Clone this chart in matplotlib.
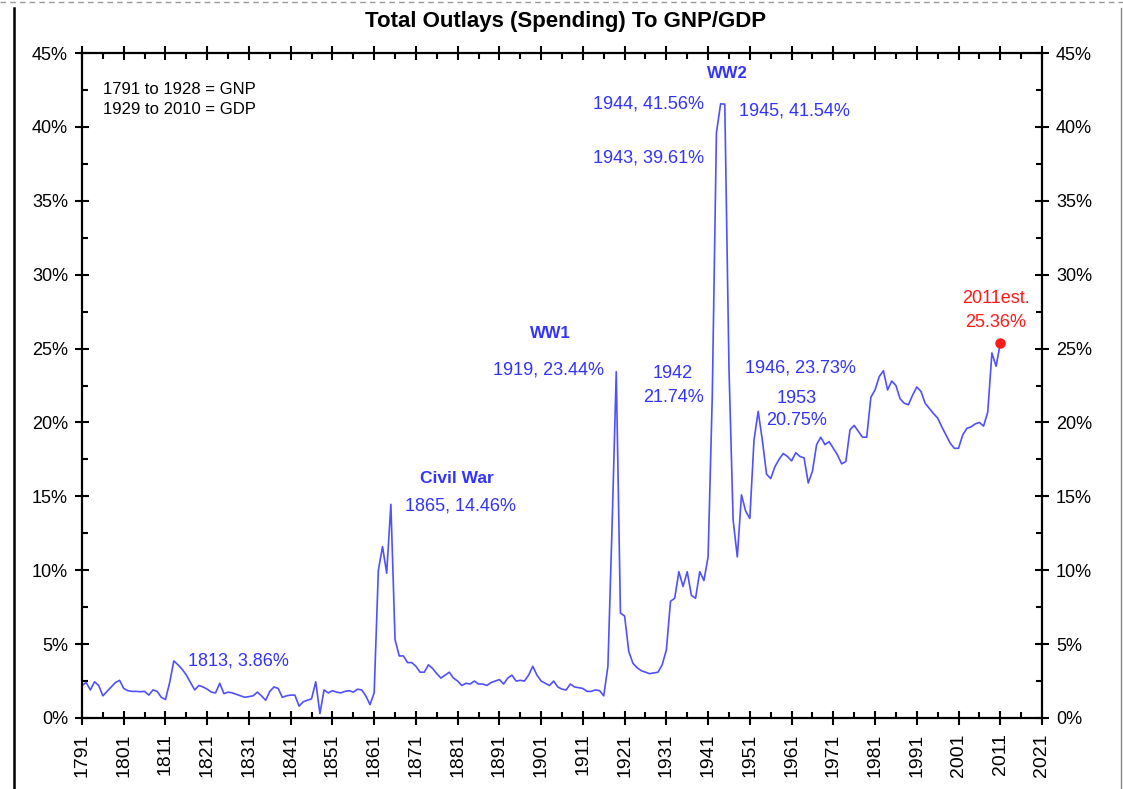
import numpy as np
import matplotlib
matplotlib.use("Agg")
import matplotlib.pyplot as plt
from matplotlib.lines import Line2D
from matplotlib.ticker import FixedLocator, FuncFormatter

plt.rcParams['font.family'] = ['Liberation Sans', 'DejaVu Sans']

# ---- data ----
start_year = 1791
outlays_pct = [
    # 1791-1800
    2.2, 2.4, 1.9, 2.45, 2.2, 1.5, 1.8, 2.1, 2.4, 2.55,
    # 1801-1810
    2.0, 1.85, 1.8, 1.8, 1.78, 1.8, 1.55, 1.9, 1.8, 1.4,
    # 1811-1820
    1.25, 2.4, 3.86, 3.6, 3.3, 2.9, 2.4, 1.9, 2.2, 2.1,
    # 1821-1830
    1.95, 1.75, 1.7, 2.35, 1.65, 1.75, 1.7, 1.6, 1.5, 1.4,
    # 1831-1840
    1.45, 1.5, 1.75, 1.5, 1.2, 1.8, 2.1, 2.0, 1.4, 1.5,
    # 1841-1850
    1.55, 1.55, 0.8, 1.1, 1.2, 1.3, 2.45, 0.3, 1.9, 1.7,
    # 1851-1860
    1.85, 1.75, 1.7, 1.8, 1.85, 1.75, 1.95, 1.9, 1.5, 0.9,
    # 1861-1870
    1.7, 10.0, 11.6, 9.8, 14.46, 5.3, 4.2, 4.2, 3.75, 3.75,
    # 1871-1880
    3.5, 3.1, 3.1, 3.6, 3.35, 3.0, 2.7, 2.9, 3.1, 2.7,
    # 1881-1890
    2.5, 2.2, 2.35, 2.3, 2.5, 2.3, 2.3, 2.2, 2.4, 2.5,
    # 1891-1900
    2.6, 2.3, 2.7, 2.9, 2.5, 2.55, 2.5, 2.9, 3.5, 2.9,
    # 1901-1910
    2.5, 2.35, 2.2, 2.5, 2.1, 1.95, 1.9, 2.3, 2.1, 2.05,
    # 1911-1920
    2.0, 1.8, 1.8, 1.9, 1.85, 1.5, 3.5, 13.0, 23.44, 7.1,
    # 1921-1930
    6.9, 4.5, 3.7, 3.4, 3.2, 3.1, 3.0, 3.05, 3.1, 3.6,
    # 1931-1940
    4.6, 7.9, 8.1, 9.9, 8.9, 9.9, 8.3, 8.1, 9.9, 9.3,
    # 1941-1950
    10.9, 21.74, 39.61, 41.56, 41.54, 23.73, 13.4, 10.9, 15.1, 14.0,
    # 1951-1960
    13.5, 18.8, 20.75, 18.8, 16.5, 16.2, 17.0, 17.5, 17.9, 17.7,
    # 1961-1970
    17.4, 17.95, 17.7, 17.6, 15.9, 16.7, 18.5, 19.0, 18.5, 18.7,
    # 1971-1980
    18.25, 17.8, 17.2, 17.35, 19.5, 19.8, 19.4, 19.0, 19.0, 21.7,
    # 1981-1990
    22.2, 23.1, 23.5, 22.2, 22.8, 22.5, 21.6, 21.3, 21.2, 21.85,
    # 1991-2000
    22.4, 22.1, 21.3, 20.95, 20.6, 20.3, 19.7, 19.15, 18.6, 18.25,
    # 2001-2011
    18.25, 19.15, 19.6, 19.7, 19.9, 20.0, 19.75, 20.7, 24.7, 23.8, 25.36,
]
years = np.arange(start_year, start_year + len(outlays_pct))

est_year = 2011
est_value = 25.36

blue = '#3333ff'
line_blue = '#5050ff'

fig = plt.figure(figsize=(11.23, 7.89), dpi=100)
ax = fig.add_axes([82 / 1123, 1 - 718 / 789, 960 / 1123, 665 / 789])

ax.plot(years, outlays_pct, color=line_blue, lw=1.2)
ax.plot([est_year], [est_value], 'o', color='#ff1a1a', ms=6.5, clip_on=False, zorder=5)

ax.set_xlim(1791, 2021)
ax.set_ylim(0, 45)

ax.xaxis.set_major_locator(FixedLocator(np.arange(1791, 2022, 10)))
ax.xaxis.set_minor_locator(FixedLocator(np.arange(1796, 2022, 10)))
ax.yaxis.set_major_locator(FixedLocator(np.arange(0, 46, 5)))
ax.yaxis.set_minor_locator(FixedLocator(np.arange(2.5, 45, 5)))
ax.yaxis.set_major_formatter(FuncFormatter(lambda v, p: f"{v:.0f}%"))
ax.xaxis.set_major_formatter(FuncFormatter(lambda v, p: f"{v:.0f}"))

for s in ax.spines.values():
    s.set_linewidth(1.6)
    s.set_color('black')

ax.tick_params(axis='both', which='major', direction='inout', length=10, width=1.5,
               top=True, right=True, labelsize=13, pad=5)
ax.tick_params(axis='both', which='minor', direction='in', length=4.5, width=1.5,
               top=True, right=True)
ax.tick_params(axis='y', labelright=True, labelleft=True)
ax.tick_params(axis='x', labelrotation=90, pad=6, labelsize=14)

# ---- annotations ----
fs = 13
ax.text(1796.0, 42.56, "1791 to 1928 = GNP", fontsize=12, color='black', ha='left', va='center')
ax.text(1796.0, 41.2, "1929 to 2010 = GDP", fontsize=12, color='black', ha='left', va='center')

ax.text(1945.5, 43.64, "WW2", fontsize=12, color=blue, fontweight='bold', ha='center', va='center')
ax.text(1940.0, 41.54, "1944, 41.56%", fontsize=fs, color=blue, ha='right', va='center')
ax.text(1948.4, 41.07, "1945, 41.54%", fontsize=fs, color=blue, ha='left', va='center')
ax.text(1940.0, 37.89, "1943, 39.61%", fontsize=fs, color=blue, ha='right', va='center')

ax.text(1903.1, 26.05, "WW1", fontsize=12, color=blue, fontweight='bold', ha='center', va='center')
ax.text(1916.06, 23.55, "1919, 23.44%", fontsize=fs, color=blue, ha='right', va='center')

ax.text(1932.6, 23.34, "1942", fontsize=fs, color=blue, ha='center', va='center')
ax.text(1932.6, 21.72, "21.74%", fontsize=fs, color=blue, ha='center', va='center')

ax.text(1949.8, 23.68, "1946, 23.73%", fontsize=fs, color=blue, ha='left', va='center')
ax.text(1962.3, 21.65, "1953", fontsize=fs, color=blue, ha='center', va='center')
ax.text(1962.3, 20.1, "20.75%", fontsize=fs, color=blue, ha='center', va='center')

ax.text(1880.8, 16.24, "Civil War", fontsize=12.5, color=blue, fontweight='bold', ha='center', va='center')
ax.text(1868.4, 14.34, "1865, 14.46%", fontsize=fs, color=blue, ha='left', va='center')

ax.text(1816.4, 3.86, "1813, 3.86%", fontsize=fs, color=blue, ha='left', va='center')

ax.text(2010.0, 28.42, "2011est.", fontsize=fs, color='#ff1a1a', ha='center', va='center')
ax.text(2010.0, 26.79, "25.36%", fontsize=fs, color='#ff1a1a', ha='center', va='center')

fig.text(566 / 1123, 1 - 22 / 789, "Total Outlays (Spending) To GNP/GDP",
         fontsize=16, fontweight='bold', ha='center', va='center')

# page border decorations
fig.add_artist(Line2D([13.5 / 1123, 13.5 / 1123], [0, 1 - 8 / 789], color='black', lw=1.8))
fig.add_artist(Line2D([1121 / 1123, 1121 / 1123], [0, 1 - 8 / 789], color='#888888', lw=1.0))
fig.add_artist(Line2D([0, 1], [1 - 2 / 789, 1 - 2 / 789], color='#999999', lw=1.0,
                      linestyle=(0, (4, 3))))

fig.savefig("out.png", dpi=100)
